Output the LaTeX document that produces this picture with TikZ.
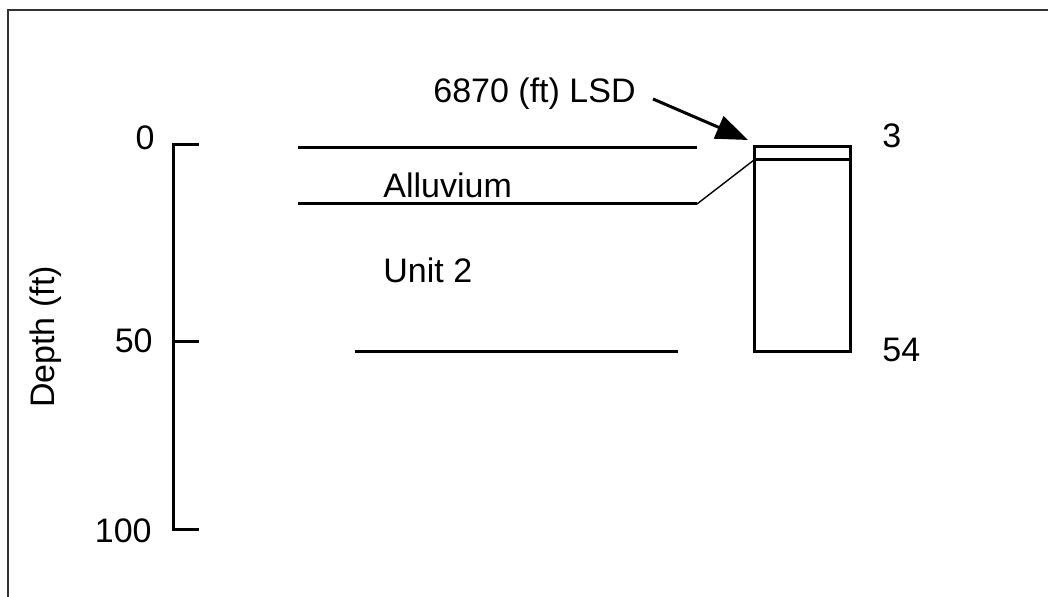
\documentclass[tikz,border=0pt]{standalone}
\usepackage{fontspec}
\setmainfont{Liberation Sans}
\usetikzlibrary{arrows.meta}
\begin{document}
\begin{tikzpicture}[x=0.5pt,y=-0.5pt,
  thick line/.style={line width=1.5pt},
  thin line/.style={line width=0.7pt},
  lbl/.style={inner sep=0pt,font=\fontsize{17}{20}\selectfont}]
\useasboundingbox (0,0) rectangle (1048,597);
% frame
\draw[line width=1pt,black!80] (8,597) -- (8,10) -- (1048,10);
% axis
\coordinate (a0) at (173,145);
\coordinate (a50) at (173,342);
\coordinate (a100) at (173,530);
\coordinate (t0) at (199,145);
\coordinate (t50) at (199,342);
\coordinate (t100) at (199,530);
\draw[thick line] (t0) -- (a0) -- (a100) -- (t100);
\draw[thick line] (a50) -- (t50);
\node[lbl,anchor=base east] (l0) at (155,150) {0};
\node[lbl,anchor=base east] (l50) at (153,353) {50};
\node[lbl,anchor=base east] (l100) at (152,543) {100};
\node[lbl,rotate=90] (depth) at (46,337) {Depth (ft)};
% strata lines
\coordinate (h1a) at (298,148); \coordinate (h1b) at (697,148);
\coordinate (h2a) at (298,204); \coordinate (h2b) at (697,204);
\coordinate (h3a) at (355,352); \coordinate (h3b) at (678,352);
\draw[thick line] (h1a) -- (h1b);
\draw[thick line] (h2a) -- (h2b);
\draw[thick line] (h3a) -- (h3b);
\node[lbl,anchor=base west] (allu) at (383,198) {Alluvium};
\node[lbl,anchor=base west] (unit2) at (383,283) {Unit 2};
% box
\coordinate (bTL) at (754,147);
\coordinate (bBR) at (850,352);
\coordinate (mL) at (754,160);
\coordinate (mR) at (850,160);
\draw[thick line] (bTL) rectangle (bBR);
\draw[thick line] (mL) -- (mR);
\draw[thin line] (h2b) -- (mL);
\node[lbl,anchor=base west] (top) at (882,148) {3};
\node[lbl,anchor=base west] (bot) at (882,362) {54};
% label with arrow
\node[lbl,anchor=base west] (lsd) at (433,103) {6870 (ft) LSD};
\coordinate (arrS) at (653,99);
\coordinate (arrE) at (748,140);
\draw[thick line,-{Triangle[length=16pt,width=12pt]}] (arrS) -- (arrE);
\end{tikzpicture}
\end{document}
